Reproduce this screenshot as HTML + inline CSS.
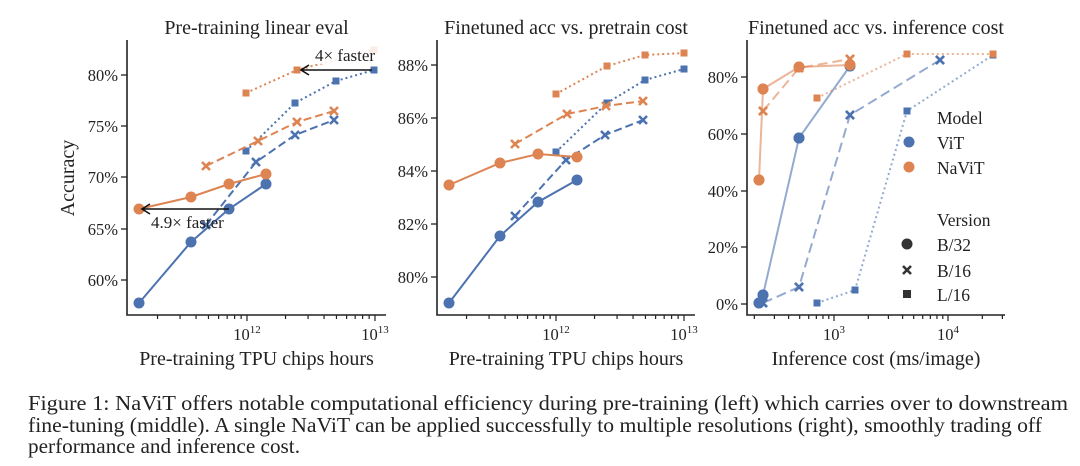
<!DOCTYPE html>
<html><head><meta charset="utf-8"><style>
body{margin:0;background:#fff;width:1080px;height:466px;overflow:hidden}
svg{position:absolute;left:0;top:0}
</style></head><body>
<svg id="s" width="1080" height="466" xmlns="http://www.w3.org/2000/svg" font-family="Liberation Serif, serif"></svg>
<script>
const S=document.getElementById('s');let h='';
const B='#4c72b0',O='#dd8452';
function line(pts,c,dash,op){h+=`<polyline points="${pts.map(p=>p.join(',')).join(' ')}" fill="none" stroke="${c}" stroke-width="2" ${dash?`stroke-dasharray="${dash}"`:''} opacity="${op||1}"/>`;}
function mk(pts,c,t){pts.forEach(([x,y])=>{if(t=='o')h+=`<circle cx="${x}" cy="${y}" r="5.5" fill="${c}"/>`;else if(t=='s')h+=`<rect x="${x-3.5}" y="${y-3.5}" width="7" height="7" fill="${c}"/>`;else h+=`<path d="M${x-4},${y-4}L${x+4},${y+4}M${x-4},${y+4}L${x+4},${y-4}" stroke="${c}" stroke-width="2.6"/>`;});}
function ser(pts,c,dash,t,op){line(pts,c,dash,op);mk(pts,c,t);}
function txt(x,y,s,sz,anc){h+=`<text x="${x}" y="${y}" font-size="${sz||15}" text-anchor="${anc||'start'}" fill="#222">${s}</text>`;}
function axes(L,R,T,Bt,yt,xd,xmin,xmax,title,xl){
 h+=`<path d="M${L},${T}V${Bt}H${R}" stroke="#222" stroke-width="1.6" fill="none"/>`;
 yt.forEach(([y,l])=>{h+=`<path d="M${L-6},${y}H${L}" stroke="#222" stroke-width="1.3"/>`;txt(L-9,y+6,l,16.5,'end');});
 const [x0,e0]=xd;
 for(let e=xmin;e<=xmax;e++)for(let m=1;m<10;m++){const x=x0+xd[2]*(e-e0+Math.log10(m));if(x<L+2||x>R)continue;
  h+=`<path d="M${x},${Bt}V${Bt+(m==1?6:4)}" stroke="#222" stroke-width="1.2"/>`;
  if(m==1)h+=`<text x="${x}" y="${Bt+25}" font-size="16.5" text-anchor="middle" fill="#222">10<tspan font-size="11" dy="-7">${e}</tspan></text>`;}
 txt((L+R)/2,34,title,20,'middle');txt((L+R)/2,Bt+50,xl,20,'middle');
}
axes(127,386,40,315,[[75,'80%'],[126,'75%'],[177,'70%'],[229,'65%'],[280,'60%']],[247,12,128],11,13,'Pre-training linear eval','Pre-training TPU chips hours');
h+=`<text transform="translate(74,178) rotate(-90)" font-size="20" text-anchor="middle" fill="#222">Accuracy</text>`;
ser([[206,225],[256,162],[295,135],[334,120]],B,'8,4','x');
ser([[246,151],[295,103],[336,81],[374,70]],B,'2,3','s');
ser([[206,166],[258,141],[297,122],[334,111]],O,'8,4','x');
ser([[246,93],[297,70],[374,50]],O,'2,3','s');
ser([[139,303],[191,242],[229,209],[266,184]],B,'','o');
ser([[139,209],[191,197],[229,184],[266,174]],O,'','o');
h+=`<path d="M372,70H302M309,65L301,70L309,75M229,209H143M150,204L142,209L150,214" stroke="#111" stroke-width="1.6" fill="none"/>`;
h+=`<rect x="314" y="44" width="74" height="20" fill="#fff" opacity="0.85"/>`;
txt(315,61,'4× faster',17);txt(151,228,'4.9× faster',17);
axes(437,695,40,315,[[65,'88%'],[118,'86%'],[171,'84%'],[224,'82%'],[277,'80%']],[556,12,128],11,13,'Finetuned acc vs. pretrain cost','Pre-training TPU chips hours');
ser([[515,216],[566,160],[605,135],[643,120]],B,'8,4','x');
ser([[556,152],[607,103],[645,80],[684,69]],B,'2,3','s');
ser([[515,144],[567,114],[606,106],[643,101]],O,'8,4','x');
ser([[556,94],[607,66],[645,55],[684,53]],O,'2,3','s');
ser([[449,303],[500,236],[538,202],[577,180]],B,'','o');
ser([[449,185],[500,163],[538,154],[577,157]],O,'','o');
axes(747,1005,40,315,[[77,'80%'],[134,'60%'],[191,'40%'],[247,'20%'],[304,'0%']],[834,3,114],2,4,'Finetuned acc vs. inference cost','Inference cost (ms/image)');
ser([[817,303],[855,290],[907,111],[993,55]],B,'2,3','s',0.6);
ser([[763,303],[799,287],[850,115],[940,60]],B,'10,5','x',0.6);
ser([[759,303],[763,295],[799,138],[850,66]],B,'','o',0.6);
ser([[817,98],[907,54],[993,54]],O,'2,3','s',0.6);
ser([[763,111],[799,68],[850,59]],O,'10,5','x',0.6);
ser([[759,180],[763,89],[799,67],[850,65]],O,'','o',0.6);
mk([[817,303],[855,290],[907,111],[993,55]],B,'s');mk([[763,303],[799,287],[850,115],[940,60]],B,'x');mk([[759,303],[763,295],[799,138],[850,66]],B,'o');
mk([[817,98],[907,54],[993,54]],O,'s');mk([[763,111],[799,68],[850,59]],O,'x');mk([[759,180],[763,89],[799,67],[850,65]],O,'o');
txt(937,124,'Model',17.5);h+=`<circle cx="909" cy="142" r="5.5" fill="${B}"/><circle cx="909" cy="167" r="5.5" fill="${O}"/>`;
txt(937,149,'ViT',17.5);txt(937,174,'NaViT',17.5);txt(937,226,'Version',17.5);
h+=`<circle cx="907" cy="244" r="5.5" fill="#333"/>`;mk([[907,270]],'#333','x');h+=`<rect x="903" y="290" width="8" height="8" fill="#333"/>`;
txt(937,251,'B/32',17.5);txt(937,277,'B/16',17.5);txt(937,301,'L/16',17.5);
h+=`<text x="28" y="410" font-size="21.5" fill="#222" textLength="1040" lengthAdjust="spacingAndGlyphs">Figure 1: NaViT offers notable computational efficiency during pre-training (left) which carries over to downstream</text>`;
h+=`<text x="28" y="432" font-size="21.5" fill="#222" textLength="1014" lengthAdjust="spacingAndGlyphs">fine-tuning (middle). A single NaViT can be applied successfully to multiple resolutions (right), smoothly trading off</text>`;
h+=`<text x="28" y="453" font-size="21.5" fill="#222" textLength="272" lengthAdjust="spacingAndGlyphs">performance and inference cost.</text>`;
S.innerHTML=h;
</script>
</body></html>
